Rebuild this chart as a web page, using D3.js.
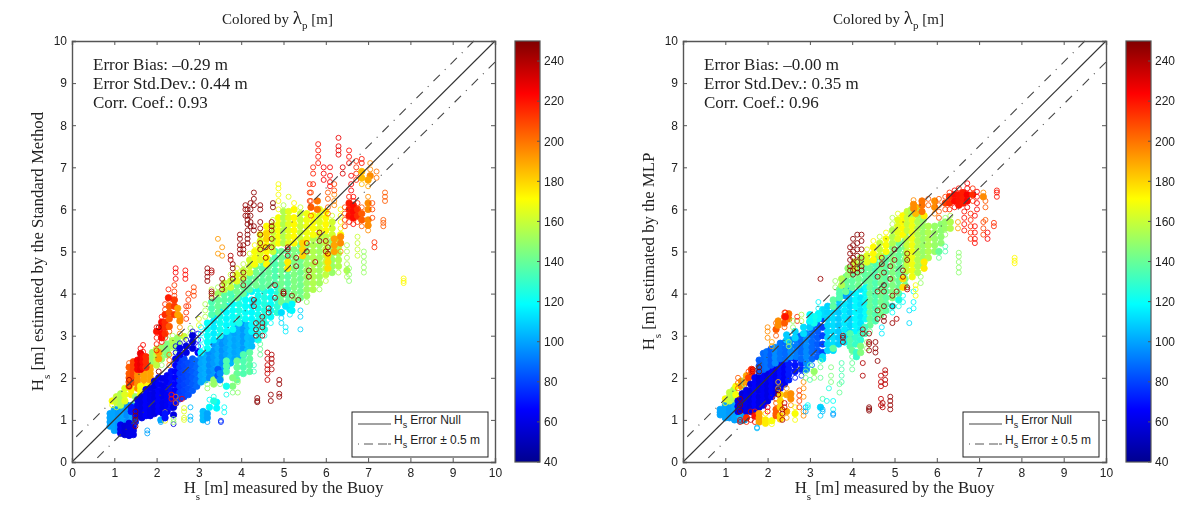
<!DOCTYPE html>
<html lang="en">
<head>
<meta charset="UTF-8">
<title>Hs scatter</title>
<script src="https://d3js.org/d3.v7.min.js"></script>
<style>
  body { margin: 0; background: #fff; }
  svg { display: block; filter: blur(0.4px); }
  text { fill: #222; }
  .serif { font-family: "Liberation Serif", serif; }
  .sans { font-family: "Liberation Sans", sans-serif; }
</style>
</head>
<body>
<svg width="1200" height="509"></svg>
<script>
// each row: wavelength, Hs buoy, then the Hs estimates in that column
const leftMarks = [
[100,.9,.85,.95,1.05,1.15],[100,1,.75,.85,.95,1.05,1.15,1.25],[98,1.1,.75,.85,.95,1.05,1.15,1.25],[100,1.2,.72,.82,.95,1.1,1.2,1.3],[95,1.3,.7,.85,.95,1.1,1.2,1.35],[100,1.42,.85,1,1.1,1.25,1.35],
[62,1.15,.68,.78,.88],[58,1.25,.65,.75,.85],[60,1.35,.63,.72,.82,.92],[62,1.45,.65,.75,.85],
[170,.95,1.35,1.45],[160,1.05,1.3,1.42,1.55],[155,1.15,1.35,1.5,1.62],[165,1.25,1.45,1.6,1.75],[175,1.4,1.6,1.72,1.85],[150,1.5,1.45,1.55],
[205,1.35,1.8,1.9,2,2.1,2.25,2.35],[210,1.45,1.9,2,2.1,2.2,2.3,2.38],[195,1.55,1.75,1.85,1.95,2.05,2.15,2.25],[190,1.7,1.8,1.95,2.05,2.15,2.3],[190,1.85,1.9,2,2.1,2.2,2.3,2.42],[170,1.62,1.6,1.7,1.8],[172,1.78,1.7,1.8],
[225,1.55,2.2,2.3,2.42],[228,1.62,2.2,2.32,2.45,2.58,2.7],[222,1.68,2.25,2.38,2.5,2.62,2.78],[215,1.75,2.25,2.38,2.5],
[150,1.9,2.4,2.5,2.6],[158,2,2.3,2.42,2.55,2.68],[150,2.12,2.3,2.45,2.6,2.72],[145,2.25,2.55,2.68,2.8,2.92],[155,2.38,2.6,2.75,2.88,3],[150,2.5,2.7,2.82,2.95],[160,2.65,2.85,2.98],[155,2.8,3.05,3.18],[165,3,3.25,3.4],
[190,2.05,2.45,2.6],[200,2.3,2.3,2.42,2.55],
[220,2,2.65,2.8,2.95,3.1,3.2],[222,2.12,2.85,2.95,3.05,3.2,3.32,3.45],[215,2.2,2.95,3.05,3.2,3.32,3.5,3.62,3.75],[205,2.3,3.1,3.22,3.4,3.55,3.7,3.85],[212,2.42,3.5,3.7,3.85,3.95,4.05,4.2],[225,2.45,4.35,4.5,4.6],[218,2.28,3.9,4.1],[195,2.55,3.05,3.2,3.35,3.45],[215,2.7,3.4,3.55,3.7],[212,2.75,3.7,3.85,4],[222,2.68,4.35,4.45,4.55],[210,2.88,3.95,4.05,4.15],[190,2.5,3.5,3.65],
[75,1.5,.95,1.05,1.15,1.25],[70,1.4,1.2,1.3],
[62,1.55,1.1,1.22,1.35,1.48],[60,1.65,1.05,1.18,1.3,1.42,1.55],[65,1.75,1.1,1.22,1.35,1.48,1.6,1.72],[62,1.85,1.1,1.22,1.35,1.48,1.6,1.75],[60,1.95,1.15,1.28,1.4,1.52,1.65,1.8,1.92],[66,2.05,1.2,1.32,1.45,1.58,1.7,1.85,2],[62,2.15,1.15,1.28,1.4,1.55,1.68,1.82,1.98],[64,2.25,1.2,1.35,1.48,1.6,1.75,1.9,2.05],[68,2.35,1.3,1.42,1.55,1.7,1.85,2,2.15],[66,2.45,1.4,1.55,1.7,1.85,2,2.15,2.3],
[78,2.55,1.5,1.65,1.8,1.95,2.1,2.25,2.4],[80,2.65,1.55,1.7,1.85,2,2.15,2.3,2.45],[82,2.75,1.6,1.75,1.9,2.05,2.2,2.35],[85,2.85,1.7,1.85,2,2.15,2.3,2.45],[88,2.95,1.8,1.95,2.1,2.25,2.4],
[62,2.45,2.45,2.6,2.75],[62,2.55,2.55,2.7,2.82],[60,2.7,2.6,2.75,2.9],[58,2.85,2.7,2.85,3,3.1],[66,2.98,2.6,2.75,2.9,3.05],
[100,3.05,1.9,2.05,2.2,2.35,2.5],[102,3.15,1.95,2.1,2.25,2.4,2.55],[95,3.25,2,2.15,2.3,2.45,2.6],[98,3.35,2.05,2.2,2.35,2.5,2.65,2.8],[102,3.45,2.1,2.25,2.4,2.55,2.7,2.85],[96,3.55,2.2,2.35,2.5,2.65,2.8,2.95],[100,3.65,2.25,2.4,2.55,2.7,2.85,3],[104,3.75,2.35,2.5,2.65,2.8,2.95,3.08],[100,3.85,2.45,2.6,2.75,2.9,3.05,3.2],[102,3.95,2.5,2.65,2.8,2.95,3.1,3.25],[98,4.05,2.55,2.7,2.85,3,3.15,3.3],[106,4.15,2.65,2.8,2.95,3.1,3.25],[105,4.25,2.75,2.9,3.05,3.2],
[118,3.05,2.6,2.75,2.9,3.05,3.2],[120,3.2,2.7,2.85,3,3.15,3.3],[115,3.35,2.9,3.05,3.2,3.35,3.48],[122,3.5,3,3.15,3.3,3.45,3.6],[118,3.65,3.1,3.25,3.4,3.55,3.7],[120,3.8,3.15,3.3,3.45,3.6,3.75,3.9],[124,3.95,3.3,3.45,3.6,3.75,3.9],[120,4.1,3.4,3.55,3.7,3.85,4],[118,4.25,3.1,3.25,3.4,3.55,3.7,3.85,4.05],[122,4.4,2.9,3.05,3.2,3.35,3.5,3.65,3.8,3.95,4.1],[125,4.55,3,3.15,3.3,3.45,3.6,3.75,3.9,4.05],[120,4.7,3.3,3.45,3.6,3.75,3.9,4.05],[128,4.85,3.55,3.7,3.85,4,4.15],
[135,3.3,3.5,3.65,3.8],[140,3.45,3.55,3.7,3.85],[138,3.6,3.7,3.85,3.98],[135,3.75,3.85,4,4.1],[142,3.9,3.9,4.05,4.2],[140,4.05,4,4.15,4.3],[138,4.2,4.1,4.25,4.4],[142,4.35,4.2,4.35,4.5,4.65],[138,4.5,4.15,4.3,4.45,4.6,4.75],[140,4.65,4.2,4.35,4.5,4.65,4.8],[135,4.8,4.25,4.4,4.55,4.7,4.85,5],[142,4.95,3.8,3.95,4.1,4.25,4.4,4.55,4.7,4.85,5],[138,5.1,3.8,3.95,4.1,4.25,4.4,4.55,4.7,4.85,5],[145,5.25,3.85,4,4.15,4.3,4.45,4.6,4.75,4.9,5.05],[142,5.4,3.9,4.05,4.2,4.35,4.5,4.65,4.8,5,5.15],
[150,5.55,3.8,3.95,4.1,4.25,4.4,4.55,4.7,4.85,5,5.15],[155,5.7,4.1,4.25,4.4,4.55,4.7,4.85,5,5.15,5.3],[152,5.85,4.1,4.25,4.4,4.55,4.7,4.85,5,5.15,5.3],[158,6,4.3,4.45,4.6,4.75,4.9,5.05,5.2,5.35],[150,6.15,4.5,4.65,4.8,4.95,5.1,5.25],[155,6.3,4.5,4.65,4.8,4.95,5.1,5.3],
[155,3.15,3.45,3.6,3.75],[160,3.3,3.95,4.1],[152,3.45,4,4.15],[158,3.6,4.1,4.25],[160,3.75,4.15,4.3,4.45],[165,3.9,4.3,4.45,4.6],[158,4.05,4.4,4.55,4.7],[162,4.2,4.5,4.65,4.8,4.95],[170,4.32,4.7,4.85,5,5.15],
[165,4.45,4.8,4.95,5.1,5.25,5.4],[172,4.6,4.7,4.85,5,5.15,5.3,5.45,5.6],[160,4.75,5,5.15,5.3,5.45,5.6,5.75],[170,4.88,5.2,5.35,5.5,5.65,5.8,6,6.2,6.35,6.5,6.6],[155,5,5.2,5.35,5.5,5.65,5.8,5.95,6.1],[165,5.12,5.2,5.35,5.5,5.65,5.8,5.95,6.3],[172,5.25,5.2,5.35,5.5,5.65,5.8,6,6.15],[160,5.4,5.3,5.45,5.6,5.75,5.9,6.05],[168,5.55,5.3,5.45,5.6,5.75,5.9],[170,5.7,5.4,5.55,5.7,5.85],[165,5.85,5.4,5.55,5.7,5.85,6],[172,6,5.5,5.65,5.8,5.95],[162,6.15,5.4,5.55,5.7,5.85],[170,6.35,5.4,5.55,5.7,5.85,6],[155,6.5,4.4,4.55,4.7,4.85,5,5.15],[150,6.9,4.5,4.62,4.75,4.88,5],[160,6.75,4.9,5.05,5.2,5.35],[148,6.55,4.3,4.45,4.6],
[180,5.45,4.9,5.05,5.2],[175,5.1,4.6,4.75],[178,6.05,4.6,4.75,4.9],[190,6.2,5,5.15,5.3],[195,6.35,5,5.2,5.35],
[205,5.65,5.85,6.05,6.2,6.4],[200,5.8,6,6.2],[205,6.05,5.9,6.05,6.25,6.4],[195,6.2,6.1,6.2,6.35],[210,6.45,5.6,5.75,5.9,6.05],[218,6.55,5.7,5.85,6,6.15,6.3],[222,6.65,5.65,5.8,5.95,6.1,6.2,6.3],[215,6.75,5.7,5.85,6,6.15],[205,6.85,5.6,5.75,5.9,6.05],[195,7,5.5,5.62,5.75,6,6.15,6.3],[210,7.1,5.8,6,6.15],[205,7.4,6.2,6.3,6.4],[205,7.36,5.6,5.68,5.75],[215,7.15,5.1,5.22],[195,7.05,6.8,6.95,7.1],[200,7.2,6.75,6.9],
[215,5.62,6.2,6.4,6.6],[220,5.82,7.1,7.25,7.4,7.55],[225,6.1,6.55,6.65,6.8,7],[228,6.3,7.3,7.4,7.5,7.7],[222,6.55,7.1,7.25,7.4],[215,6.72,6.7,6.85,7,7.15],[220,6.85,7.1,7.2],[230,6.4,6.85,7],[210,6.2,6.45,6.6],[225,5.95,6.7,6.85,7],[218,5.7,6.85,7,6.6],[225,6.6,6.45,6.6,6.8],
[185,6.85,6.6,6.75,6.9],[190,7,6.55,6.7],[180,4.6,5.3,5.42],
[112,4.95,3.3,3.42,3.55],[115,5.15,3.5,3.62],[110,5.4,3.15,3.45,3.6],[115,5.05,3.1,3.2,3.7],[118,5.2,3.6,3.75],
[135,3.65,2.15,2.28,2.4],[140,3.9,1.95,2.1,2.25,2.4],[135,4.05,2.1,2.25,2.4,2.55],[138,4.2,2.15,2.3,2.45,2.6],[132,4.3,2.15,2.3],[140,4.45,2.55,2.68,2.8],[145,3.5,1.85,2,2.1],[150,3.2,1.75,1.85],[150,3.35,1.85,1.95],[145,3.8,1.65,1.8,2],[150,3.92,1.65,1.9],[122,3.65,1.6,1.8],[118,3.25,1.3,1.48],[118,3.42,1.28,1.42],[120,3.6,1.18,1.3],[125,3.35,1.45,1.55],[105,3.1,1,1.1,1.2],[100,3.2,.95,1.05,1.15],[75,3.52,.95,.98],[105,2.8,1,1.08,1.3],[100,1.78,.68,.75],[100,2.1,.95,1],[85,3.45,2.05,2.2],[95,3.5,1.95,2.1],
[175,2.2,.98,1.08,1.18],[165,2.65,1,1.05,1.2,1.28],[60,2.4,.9,1.12,1.3],[200,2.45,1.4,1.55],[225,2.6,1.5],[150,2.4,.95,1.02],[70,2.2,1.05,1.15],[220,2.35,1.5,1.6],
[248,2.05,2.15,3.2],[240,1.35,1.8,1.95],[245,1.5,.85,1,1.1,1.2],[245,3.2,4.3,4.4,4.5,4.6],[240,3.3,4.5,4.55],[246,3.3,3.9,4,4.05],[248,3.8,4.35,4.45,4.6,4.7],[240,3.75,4.8,4.9],[245,3.55,4.1,4.2,4.35],[245,3.97,4.95,5.05,5.15,5.3,5.4],[246,4.05,4.2,4.35,4.5,4.95,5.05,5.15],[248,4.15,5.2,5.3,5.4,5.5,5.65,5.75,5.85,6],[248,4.22,5.6,5.7,5.85,6,6.15],[247,4.3,5.5,5.6,6.1,6.25,6.4],[245,4.1,5.85,6,6.1],[246,4.45,5.05,5.2,5.4,5.55,5.7,6,6.1],[245,4.72,5.1,5.3,5.5,5.6,5.7],[250,4.75,6.05,6.15],[245,4.58,4.85,5.1],
[248,4.35,3,3.15,3.3],[246,4.5,3,3.2,3.3,3.45],[244,4.65,3.55,3.65],[246,5,4,4.05,4],[248,5.35,3.85],[245,5.2,3.95],[242,4.8,3.9,4.2],[245,4.3,3.7,3.85],
[235,4.62,1.95,2.1,2.2,2.3,2.45,2.6],[240,4.72,2.2,2.35,2.45,2.55],[245,4.9,1.55,1.62,1.85,1.95],[246,4.7,1.45,1.6],[248,4.38,1.42,1.45,1.52],
[240,5.55,5,5.2],[245,5.85,5.25,5.45],[242,6,5.25,5],[245,5.3,4.65,4.85],[248,5.6,4.4,4.55],[240,5.75,4.75],[244,6.05,4.95,5.1],[240,5.1,4.9,5.05,5.1],
[193,3.55,4.9,5.1],[192,3.45,4.95,5.3],
[172,7.84,4.25,4.3,4.36]
];

const rightMarks = [
[100,.88,1.12,1.18,1.25],[100,1,1.05,1.15,1.25,1.35],[98,1.1,1.05,1.15,1.25,1.35],[100,1.22,1,1.1,1.2,1.32,1.42],[105,1.35,.98,1.08,1.18,1.3,1.42],[100,1.45,1,1.12,1.25],
[170,1,1.4,1.5],[160,1.1,1.45,1.55,1.65],[155,1.2,1.5,1.62,1.72],[170,1.25,1.6,1.8],[205,1.3,1.75,1.88,2],[195,1.38,1.8,1.92],[145,1.45,1.7,1.85,1.95],[215,1.62,2.1,2.2],[190,1.5,1.9,2.05],[210,1.55,1.8,2,2.15],
[62,1.3,1.2,1.32,1.45],[58,1.4,1.25,1.38,1.5,1.62],[62,1.5,1.2,1.32,1.45,1.58,1.7],[60,1.6,1.2,1.32,1.45,1.58,1.7,1.85],[66,1.7,1.25,1.38,1.5,1.62,1.75,1.88,2],[60,1.8,1.3,1.42,1.55,1.7,1.82,1.95,2.08],[64,1.9,1.35,1.48,1.6,1.72,1.85,1.98,2.1],[60,2,1.45,1.58,1.7,1.82,1.95,2.08,2.2],[66,2.1,1.55,1.68,1.8,1.92,2.05,2.18],[62,2.2,1.65,1.78,1.9,2.02,2.15,2.28],[68,2.3,1.75,1.88,2,2.12,2.25,2.38],[64,2.4,1.85,1.98,2.1,2.22,2.35],[72,2.5,1.95,2.08,2.2,2.32,2.45],[70,2.65,2,2.15,2.3,2.45],[75,2.8,2.05,2.2,2.35],
[85,1.8,2.15,2.28,2.42],[88,1.9,2.2,2.32,2.45,2.58],[90,1.98,2.25,2.38,2.5,2.62],[85,2.08,2.3,2.42,2.55,2.68],[95,2.18,2.35,2.48,2.6,2.72],[90,2.3,2.45,2.58,2.7,2.82],[88,2.42,2.45,2.58,2.7,2.85],[95,2.55,2.5,2.62,2.75,2.9],[92,2.68,2.5,2.62,2.75,2.9,3],[88,2.8,2.45,2.6,2.72,2.85,3],[95,2.92,2.2,2.35,2.5,2.62,2.75,2.9,3.05],[88,3.05,2.3,2.45,2.6,2.72,2.85,3,3.15],[85,3.18,2.5,2.65,2.8,2.95,3.1,3.25,3.4],[80,3.3,2.6,2.8,3,3.2,3.4],[78,3.2,3.4,3.5],
[108,2.45,2.9,3.02],[110,2.65,2.95,3.1],[112,2.85,3.05,3.2],[108,3,3.2,3.32],[112,3.3,2.5,2.45,3.5,3.62],[110,3.42,2.65,2.8,2.95,3.1,3.25,3.4,3.55,3.7],[112,3.55,2.65,2.8,2.95,3.1,3.25,3.4,3.55,3.7],[108,3.68,2.8,2.95,3.1,3.25,3.4,3.55,3.7,3.85],[115,3.82,2.85,3,3.15,3.3,3.45,3.6,3.75,3.95],[110,3.95,2.95,3.1,3.25,3.4,3.55,3.7,3.85,4],[118,4.08,3.1,3.25,3.4,3.55,3.7,3.85,4],[114,4.2,3.15,3.3,3.45,3.6,3.75,3.9,4.1],[120,4.32,3.4,3.55,3.7,3.85,4,4.15],[118,3.2,3.4,3.52,3.65,3.8],[122,3.1,3.3,3.45],[100,3.85,3.95,4.1],[118,3,3.35,3.5],
[138,3.55,3.7,3.85,2.7],[135,3.7,3.9,4,4.1],[140,3.85,4.05,4.2,4.3,4.4],[138,4,4.15,4.3,4.45,4.55],[142,4.15,4.2,4.35,4.5,4.65],[138,4.3,4.3,4.45,4.6,4.72],[140,4.42,3.1,3.25,3.4,3.55,3.7,3.85,4,4.15,4.3,4.45,4.6,4.75],[135,4.55,3.35,3.5,3.65,3.8,3.95,4.1,4.25,4.4,4.55,4.7,4.85],[142,4.68,3.5,3.65,3.8,3.95,4.1,4.25,4.4,4.55,4.7,4.85],[138,4.8,3.6,3.75,3.9,4.05,4.2,4.35,4.5,4.65,4.8,4.95],[145,4.95,3.9,4.05,4.2,4.35,4.5,4.65,4.8,4.95,5.1],[140,5.1,4,4.15,4.3,4.45,4.6,4.75,4.9,5.05,5.2],[145,5.25,4.2,4.35,4.5,4.65,4.8,4.95,5.1,5.25,5.4],[142,4.3,4.75,4.85],
[135,3.95,2.75,2.9,3.05],[130,4.08,2.8,2.95],[128,4.2,2.9,3.05],[132,4.3,3.05,3.2],[150,3.6,4.15,4.3],[155,3.75,4.2,4.35],[148,3.9,4.45,4.6],[160,4.05,4.6,4.75],[152,4.2,4.7,4.85],
[120,4.95,3.55,3.7],[115,4.7,3.05,3.2],[118,5.2,3.8,3.95],[112,5.35,3.3,3.6],[118,5.45,4.05,3.65,3.8],[125,5.1,3.85,3.7],
[165,4.35,4.75,4.9,5.05],[172,4.5,4.8,4.95,5.1,5.25],[160,4.65,4.9,5.05,5.2,5.35],[170,4.8,5,5.15,5.3,5.45],[155,4.95,5.2,5.35,5.5,5.65,5.8],[165,5.08,5.3,5.45,5.6,5.75,5.9],[172,5.2,5.4,5.55,5.7,5.85],[160,5.3,4.55,4.7,4.85,5,5.15,5.3,5.5,5.65,5.8,5.95],[168,5.42,4.4,4.55,4.7,4.85,5,5.15,5.3,5.45,5.6,5.75,5.9],[155,5.55,4.5,4.65,4.8,4.95,5.1,5.25,5.4,5.55,5.7,5.85],[150,5.68,4.7,4.85,5,5.15,5.3,5.45,5.6,5.75],[155,5.8,4.85,5,5.15,5.3,5.45,5.6],[150,5.95,5,5.15,5.3,5.45,5.6],[148,6.1,5.2,5.35,5.5,5.65],[150,6.2,5.4,5.55,5.7,5.8],[155,6.32,5.55,5.7,5.85],[150,5.58,5.9,6],[155,5.4,5.9,6],[148,6.52,4.5,4.62,4.75,4.88,4.97],[135,6.2,5,5.12],[140,6.05,4.85,5],[175,5.7,5.85,4.6,4.75],[178,5.2,4.15,4.35],[170,5.5,3.95,4.1,4.2],[150,5.62,4.25,4.4],
[185,5.5,5.9,6.05],[195,5.45,6.02,6.12,6.22],[200,5.65,5.95,6.1,6.2],[205,5.8,6.1,6.25],[195,5.95,5.9,6.05,6.2],[205,6.05,5.8,5.95,6.1,6.25],[210,6.2,6,6.15,6.3],
[215,6.3,6,6.15,6.3,6.4],[222,6.42,6.05,6.2,6.35,6.45],[220,6.52,6.1,6.22,6.35,6.5],[218,6.62,6.15,6.28,6.4],[225,6.72,6.05,6.2,6.35,6.5,6.62],[215,6.85,6.2,6.35,6.5],[225,6.95,6,6.15,6.3,6.42],[220,6.65,5.5,5.65,5.8,5.95],[215,6.8,5.3,5.45,5.6,5.75,5.9],[222,6.9,5.2,5.3,5.45,5.6,5.85],[210,7.1,5.4,5.55,5.7],[215,7.35,5.6,5.68],[220,7.42,6.3,6.4,6.45],[205,7.15,5.75,6.05,6.2],[195,7.1,6.3,6.4],[225,7.2,5.3,5.45],[190,6.5,5.55,5.7],
[220,1.7,1.1,1.2,.95],[190,1.8,.95,1.05,1.15],[175,1.95,.92,1,1.15],[225,2,1.2,1.3],[170,2.1,.9,.98],[205,2.2,1.1,1.15,1.25,1.4,1.5],[180,2.3,1.02,1.1,1.3,1.45,1.6],[190,2.45,1.05,1.2,1.6,1.75],[195,2.55,1.35,1.5,1.62],[170,2.65,1,1.15,1.3],[210,2.75,1.3,1.45,1.58,1.7],[195,2.85,1.1,1.2,1.55,1.75,1.9],[215,1.5,.95,1.05],[230,1.35,.95,1],[185,2.25,1.75,1.9],[240,2.35,1,1.15,1.25],[235,1.6,1,1.2],[100,2.9,1.2,1.3],[120,2.95,1.3,1.35],[105,1.75,.8,.82],
[150,2.5,2.75,2.85],[145,2.9,2,2.15],[150,3.1,2,2.15],[135,3,1.95,2.3],[140,3.25,2.25,2.4,2],[145,3.5,2.25,2.05,1.9],[135,3.75,2.2,2.05,1.9,2.35],[140,4,2.2,2.35,2.5,2.65],[130,4.1,2.5,2.6],[145,4.2,2.6,2.75],[150,4.35,2.7,2.85],[135,3.3,1.5],[125,3.45,1.75],[140,3.7,1.85,1.65],[120,3.55,1.45,1.25],[122,3.4,1.45],[110,3.25,1.1,1.3],[105,3.3,1.2,1.25],[100,3.55,1.15,1.12],
[195,2,2.95,3.1,3.2],[205,2.2,3,3.15,3.3],[195,2.25,3.25,3.35],[205,2.4,3.2,3.3,3.45,3.55],[200,2.5,3.4,3.52],[215,2.7,3.35,3.45],[220,2.42,3.45,3.55],[190,2.1,2.85,2.75],[150,2.6,3.2,3.35],[155,2.8,3.35,3.5],
[250,1.8,2.15,2.25],[235,1.65,2.15,2.2],[245,1.35,1.2,1.35,1.5],[235,2.4,1.4,1.3],[245,2.25,1.6,1.7],
[245,3.25,4.35],[246,3.95,4.55,4.65,4.8,4.95,5.1],[248,4.02,4.45,4.55,4.7,4.85,5,5.15,5.3],[249,4.12,4.5,4.6,4.75,4.9,5.05,5.2,5.4],[246,4.22,4.55,4.65,4.85,5.05,5.25,5.4],[244,3.78,2.85,2.95,3],[245,4.4,2.65,2.8,2.85,3.05],[246,4.55,2.6,2.7,2.85],[240,4.25,3.05,3.15],[245,4.6,3.6,3.4],[248,4.75,3.35,3.45,3.7],[248,4.75,4.05,4.2,4.5],[245,4.95,3.3,3.7,3.95],[240,5.05,3.4,4.05],[242,5.3,4.15,4.1],[245,4.6,4.05,4.4],[246,4.9,4.35,4.65],[244,5,4.8,5.05],[248,5.3,4.8,4.95],[246,4.6,2.4],[240,4.25,2.35,2.05],[245,5.2,4.4,4.55],[242,4.7,4.7,4.85],
[236,4.68,1.35,1.5,1.8,1.9,2.05],[238,4.78,1.85,1.95,2.1,2.18],[245,4.9,1.25,1.35,1.45,1.55],[240,4.72,1.3,1.4],[248,4.4,1.22,1.26,1.3],
[172,7.84,4.72,4.78,4.85]
];

const jetStops = [[0,"#00008f"],[.125,"#0000ff"],[.375,"#00ffff"],[.625,"#ffff00"],[.875,"#ff0000"],[1,"#800000"]];
const lambdaTicks = [40,60,80,100,120,140,160,180,200,220,240];
const hsTicks = [0,1,2,3,4,5,6,7,8,9,10];
const nullLine = [[0,0],[10,10]];
const upperLine = [[.1,.6],[9.5,10]];
const lowerLine = [[.6,.1],[10,9.5]];

const panels = [
  {left:72, marks:leftMarks, ylabel:"estimated by the Standard Method", stats:["Error Bias: \u20130.29 m","Error Std.Dev.: 0.44 m","Corr. Coef.: 0.93"]},
  {left:683, marks:rightMarks, ylabel:"estimated by the MLP", stats:["Error Bias: \u20130.00 m","Error Std.Dev.: 0.35 m","Corr. Coef.: 0.96"]}
];

const W = 423, plotTop = 41, H = 421;
const svg = d3.select("svg");
const jet = d3.scaleLinear().domain(jetStops.map(d => 40 + d[0]*210)).range(jetStops.map(d => d[1]));
const grey = "#555";

const defs = svg.append("defs");
const grad = defs.append("linearGradient").attr("id","jet").attr("x1",0).attr("x2",0).attr("y1",1).attr("y2",0);
grad.selectAll("stop").data(jetStops).join("stop").attr("offset", d => d[0]).attr("stop-color", d => d[1]);

panels.forEach((p, i) => {
  const g = svg.append("g").attr("transform", `translate(${p.left},${plotTop})`);
  const x = d3.scaleLinear().domain([0,10]).range([0,W]);
  const y = d3.scaleLinear().domain([0,10]).range([H,0]);

  // rings. where rings of one colour crowd together the original overplots to solid, so fill those
  // the reds stay open, they are rings in the original even in the clusters
  const pts = p.marks.flatMap(r => r.slice(2).map(v => ({l:r[0], x:r[1], y:v})));
  pts.forEach(a => {
    a.dense = a.l < 232 && pts.filter(b => Math.abs(a.l-b.l) < 40 && Math.hypot(a.x-b.x, a.y-b.y) < .22).length > (a.l > 200 ? 7 : 5);
  });
  g.append("g").selectAll("circle").data(pts).join("circle")
    .attr("cx", d => x(d.x)).attr("cy", d => y(d.y)).attr("r", d => d.dense ? 3.2 : 2.5)
    .attr("fill", d => d.dense ? jet(d.l) : "none").attr("stroke", d => jet(d.l))
    .attr("stroke-width",1).attr("stroke-opacity",.85);

  // reference lines
  const line = d3.line().x(d => x(d[0])).y(d => y(d[1]));
  g.append("path").attr("d", line(nullLine)).attr("stroke","#333").attr("stroke-width",1.1).attr("fill","none");
  [upperLine, lowerLine].forEach(l => g.append("path").attr("d", line(l))
    .attr("stroke","#444").attr("stroke-width",1.1).attr("fill","none").attr("stroke-dasharray","9,7,1,7"));

  // axes, matlab style with ticks inside on all four sides
  const axes = [
    d3.axisBottom(x).tickValues(hsTicks).tickSize(-4).tickPadding(6),
    d3.axisLeft(y).tickValues(hsTicks).tickSize(-4).tickPadding(5),
    d3.axisTop(x).tickValues(hsTicks).tickSize(-4).tickFormat(""),
    d3.axisRight(y).tickValues(hsTicks).tickSize(-4).tickFormat("")
  ];
  const shift = [`translate(0,${H})`,"","",`translate(${W},0)`];
  axes.forEach((a, k) => {
    const ag = g.append("g").attr("transform", shift[k]).call(a);
    ag.select(".domain").attr("stroke",grey).attr("stroke-width",1.4);
    ag.selectAll("line").attr("stroke",grey);
    ag.selectAll("text").attr("class","sans").attr("font-size",12).attr("fill","#333").attr("font-family",null);
  });

  // stats
  g.append("g").selectAll("text").data(p.stats).join("text").attr("class","serif")
    .attr("x",21).attr("y",(d,k) => 29 + k*19).attr("font-size",17).text(d => d);

  // title
  const title = g.append("text").attr("class","serif").attr("x",W/2-6).attr("y",-17).attr("text-anchor","middle").attr("font-size",15);
  title.append("tspan").text("Colored by ");
  title.append("tspan").attr("font-size",19).text("\u03bb");
  title.append("tspan").attr("font-size",11).attr("dy",5).text("p");
  title.append("tspan").attr("dy",-5).text(" [m]");

  // x label
  const xl = g.append("text").attr("class","serif").attr("x",W/2).attr("y",H+31).attr("text-anchor","middle").attr("font-size",16.8);
  xl.append("tspan").text("H");
  xl.append("tspan").attr("font-size",11).attr("dy",7).text("s");
  xl.append("tspan").attr("dy",-7).text(" [m] measured by the Buoy");

  // y label
  const yl = g.append("text").attr("class","serif").attr("transform",`translate(-29,${H/2}) rotate(-90)`).attr("text-anchor","middle").attr("font-size",16.8);
  yl.append("tspan").text("H");
  yl.append("tspan").attr("font-size",11).attr("dy",7).text("s");
  yl.append("tspan").attr("dy",-7).text(" [m] " + p.ylabel);

  // legend
  const lg = g.append("g").attr("transform",`translate(${W-143},${H-50})`);
  lg.append("rect").attr("width",136).attr("height",45).attr("fill","#fff").attr("stroke","#222").attr("stroke-width",1);
  lg.append("line").attr("x1",6).attr("x2",39).attr("y1",12).attr("y2",12).attr("stroke","#444");
  lg.append("line").attr("x1",6).attr("x2",39).attr("y1",32).attr("y2",32).attr("stroke","#555").attr("stroke-dasharray","1,5,9,5,9");
  ["Error Null","Error \u00b1 0.5 m"].forEach((t, k) => {
    const tx = lg.append("text").attr("class","sans").attr("x",42).attr("y",12+k*20).attr("font-size",12);
    tx.append("tspan").text("H");
    tx.append("tspan").attr("font-size",9).attr("dy",4).text("s");
    tx.append("tspan").attr("dy",-4).attr("dx",3).text(t);
  });

  // colorbar
  const cb = g.append("g").attr("transform",`translate(${W+20},0)`);
  const cy = d3.scaleLinear().domain([40,250]).range([H,0]);
  cb.append("rect").attr("width",25).attr("height",H).attr("fill","url(#jet)").attr("stroke",grey).attr("stroke-width",1.2);
  const ca = cb.append("g").attr("transform","translate(25,0)").call(d3.axisRight(cy).tickValues(lambdaTicks).tickSize(0).tickPadding(4));
  ca.select(".domain").remove();
  ca.selectAll("text").attr("class","sans").attr("font-size",12).attr("fill","#333").attr("font-family",null);
  cb.append("g").selectAll("line").data(lambdaTicks).join("line")
    .attr("x1",22).attr("x2",25).attr("y1",d => cy(d)).attr("y2",d => cy(d)).attr("stroke",grey);
});
</script>
</body>
</html>
